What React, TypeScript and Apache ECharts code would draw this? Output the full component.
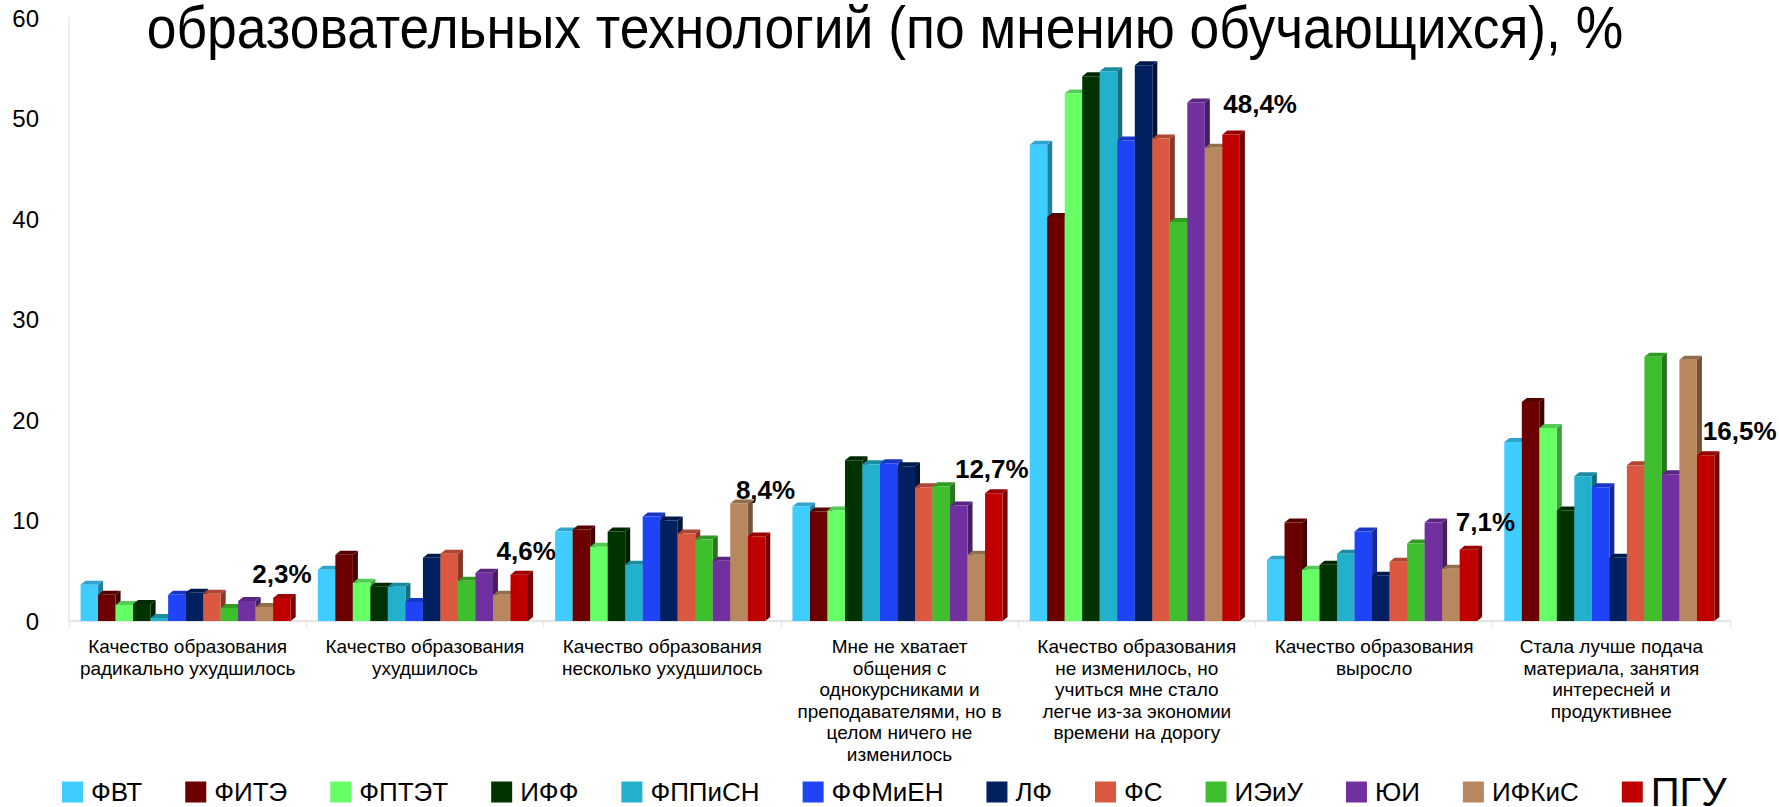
import React, { useEffect, useRef } from 'react';
import * as echarts from 'echarts';

const titleText = 'образовательных технологий (по мнению обучающихся), %';

const categories = [
  'Качество образования\nрадикально ухудшилось',
  'Качество образования\nухудшилось',
  'Качество образования\nнесколько ухудшилось',
  'Мне не хватает\nобщения с\nоднокурсниками и\nпреподавателями, но в\nцелом ничего не\nизменилось',
  'Качество образования\nне изменилось, но\nучиться мне стало\nлегче из-за экономии\nвремени на дорогу',
  'Качество образования\nвыросло',
  'Стала лучше подача\nматериала, занятия\nинтересней и\nпродуктивнее',
];

const departments = ['ФВТ', 'ФИТЭ', 'ФПТЭТ', 'ИФФ', 'ФППиСН', 'ФФМиЕН', 'ЛФ', 'ФС', 'ИЭиУ', 'ЮИ', 'ИФКиС', 'ПГУ'];

const fvt = [3.6, 5.1, 8.9, 11.4, 47.4, 6.1, 17.8];
const fite = [2.6, 6.6, 9.1, 10.9, 40.2, 9.8, 21.8];
const fptet = [1.6, 3.8, 7.4, 11.0, 52.5, 5.1, 19.2];
const iff = [1.7, 3.4, 8.9, 16.0, 54.2, 5.6, 11.0];
const fppisn = [0.3, 3.4, 5.6, 15.6, 54.7, 6.7, 14.4];
const ffmien = [2.6, 1.9, 10.4, 15.7, 47.8, 8.9, 13.3];
const lf = [2.8, 6.3, 10.0, 15.4, 55.3, 4.5, 6.3];
const fs = [2.7, 6.7, 8.7, 13.3, 48.0, 5.9, 15.5];
const ieiu = [1.3, 4.0, 8.1, 13.4, 39.7, 7.7, 26.3];
const yui = [2.0, 4.8, 6.0, 11.5, 51.6, 9.8, 14.6];
const ifkis = [1.4, 2.6, 11.7, 6.6, 47.1, 5.2, 26.0];
const pgu = [2.3, 4.6, 8.4, 12.7, 48.4, 7.1, 16.5];

const seriesValues = [fvt, fite, fptet, iff, fppisn, ffmien, lf, fs, ieiu, yui, ifkis, pgu];

const colors = ['#3FCDFF', '#6C0000', '#66FF66', '#003300', '#22B0CC', '#1E44F5', '#00205F', '#DA5840', '#40BF2E', '#7030A0', '#B8875F', '#C00000'];

const yTicks = { min: 0, max: 60, interval: 10 };

// manual nudges of the ПГУ value labels (px), as placed in the original chart
const labelNudgeX = [0, 7, 9, -2, 29, 17, 34];
const labelNudgeY = [0, 0, -23, 0, -7, -4, 0];

const FONT = 'Liberation Sans, Arial, sans-serif';

function shade(hex: string, f: number) {
  const n = parseInt(hex.slice(1), 16);
  const r = Math.round(((n >> 16) & 255) * f);
  const g = Math.round(((n >> 8) & 255) * f);
  const b = Math.round((n & 255) * f);
  return `rgb(${r},${g},${b})`;
}

const fmt = (v: number) => v.toFixed(1).replace('.', ',') + '%';

export default function App() {
  const ref = useRef<HTMLDivElement>(null);
  useEffect(() => {
    if (!ref.current) return;
    const chart = echarts.init(ref.current, undefined, { renderer: 'svg' });
    const nS = departments.length;
    const series = departments.map((name, sIdx) => ({
      type: 'custom',
      name,
      clip: false,
      itemStyle: { color: colors[sIdx] },
      encode: { x: 0, y: 1 },
      data: seriesValues[sIdx].map((v, i) => [i, v]),
      renderItem: (params: any, api: any) => {
        const ci = api.value(0);
        const val = api.value(1);
        const base = api.coord([ci, 0]);
        const top = api.coord([ci, val]);
        const bandW = api.size([1, 0])[0];
        const barW = bandW * 0.0738;
        const x0 = base[0] - (barW * nS) / 2 + sIdx * barW - 2;
        const dx = 5;
        const dy = 4;
        const c = colors[sIdx];
        const children: any[] = [
          {
            type: 'polygon',
            shape: { points: [[x0 + barW, top[1]], [x0 + barW + dx, top[1] - dy], [x0 + barW + dx, base[1] - dy], [x0 + barW, base[1]]] },
            style: { fill: shade(c, 0.62) },
          },
          {
            type: 'polygon',
            shape: { points: [[x0, top[1]], [x0 + dx, top[1] - dy], [x0 + barW + dx, top[1] - dy], [x0 + barW, top[1]]] },
            style: { fill: shade(c, 0.8) },
          },
          {
            type: 'rect',
            shape: { x: x0, y: top[1], width: barW, height: base[1] - top[1] },
            style: { fill: c },
          },
        ];
        if (sIdx === nS - 1) {
          children.push({
            type: 'text',
            x: x0 + barW / 2 + labelNudgeX[ci],
            y: top[1] - 11 + labelNudgeY[ci],
            style: {
              text: fmt(val),
              fill: '#000',
              fontSize: 26,
              fontWeight: 'bold',
              fontFamily: FONT,
              align: 'center',
              verticalAlign: 'bottom',
            },
          });
        }
        return { type: 'group', children };
      },
    }));

    chart.setOption({
      animation: false,
      backgroundColor: '#ffffff',
      graphic: [
        {
          type: 'text',
          x: 885,
          y: 2,
          scaleX: 0.89,
          style: {
            text: titleText,
            fontFamily: FONT,
            fontSize: 60,
            lineHeight: 50,
            fill: '#000',
            align: 'center',
            verticalAlign: 'top',
          },
        },
      ],
      legend: {
        left: 57,
        top: 767,
        width: 1720,
        icon: 'rect',
        itemWidth: 21,
        itemHeight: 21,
        itemGap: 43,
        textStyle: { fontFamily: FONT, fontSize: 26, lineHeight: 28, color: '#000', padding: [0, 0, 0, 3] },
        data: departments.map((d, i) =>
          i === departments.length - 1
            ? { name: d, textStyle: { fontSize: 40, lineHeight: 28 } }
            : { name: d }
        ),
      },
      grid: { left: 69, right: 49, top: 18, bottom: 186, containLabel: false },
      xAxis: {
        type: 'category',
        data: categories,
        axisLine: { show: true, lineStyle: { color: '#e4e4e4', width: 2 } },
        axisTick: { show: true, length: 6, lineStyle: { color: '#e4e4e4' } },
        axisLabel: {
          interval: 0,
          margin: 15,
          fontFamily: FONT,
          fontSize: 19,
          lineHeight: 21.5,
          color: '#000',
          align: 'center',
        },
      },
      yAxis: {
        type: 'value',
        min: yTicks.min,
        max: yTicks.max,
        interval: yTicks.interval,
        axisLine: { show: true, lineStyle: { color: '#eeeeee', width: 2 } },
        axisTick: { show: false },
        splitLine: { show: false },
        axisLabel: {
          margin: 30,
          fontFamily: FONT,
          fontSize: 24,
          color: '#000',
        },
      },
      series,
    });
    return () => chart.dispose();
  }, []);
  return <div ref={ref} style={{ position: 'fixed', left: 0, top: 0, width: 1779, height: 807 }} />;
}
